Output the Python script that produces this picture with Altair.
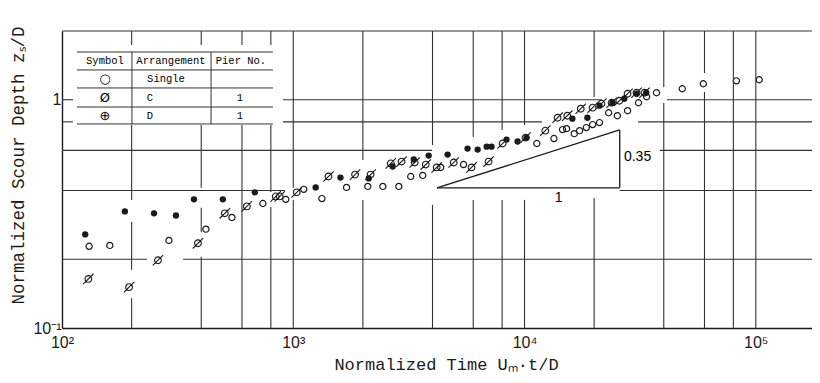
import altair as alt
import pandas as pd

# ---------------- data ----------------
single_t = [131, 161, 290, 419, 543, 739, 928, 1110, 1330, 1700, 2100, 2440, 2860, 3220, 3630, 4340, 5450,
            11300, 13400, 14600, 15200, 16400, 17300, 18500, 19700, 21100, 23100, 25200, 27900, 31100,
            33700, 37200, 48100, 59300, 82400, 103500]
single_z = [0.228, 0.230, 0.242, 0.271, 0.305, 0.351, 0.366, 0.405, 0.369, 0.413, 0.417, 0.417, 0.417, 0.461,
            0.466, 0.505, 0.520, 0.643, 0.676, 0.740, 0.747, 0.710, 0.732, 0.755, 0.778, 0.794, 0.877, 0.851,
            0.895, 0.970, 1.031, 1.073, 1.117, 1.175, 1.210, 1.223]

c_t = [130, 195, 260, 387, 506, 630, 840, 874, 1035, 1420, 1850, 2160, 2640, 2940, 3350, 3740, 4170, 4940,
       5900, 6990, 8040, 10100, 12300, 13900, 15300, 17500, 19700, 21500, 23800, 25700, 27900, 30500, 33000]
c_z = [0.164, 0.151, 0.198, 0.235, 0.318, 0.341, 0.377, 0.377, 0.393, 0.461, 0.470, 0.470, 0.526, 0.536,
       0.531, 0.520, 0.505, 0.531, 0.505, 0.536, 0.643, 0.682, 0.732, 0.834, 0.851, 0.913, 0.923, 0.961,
       0.970, 0.990, 1.062, 1.073, 1.073]

d_t = [126, 187, 250, 311, 372, 496, 682, 1250, 1600, 2120, 2690, 3320, 3850, 4650, 5670, 6270, 6860, 7200,
       8360, 9330, 10200, 16100, 18700, 21100, 24000, 27000, 30500, 33600]
d_z = [0.257, 0.324, 0.318, 0.311, 0.366, 0.366, 0.393, 0.413, 0.456, 0.452, 0.510, 0.547, 0.569, 0.575,
       0.611, 0.605, 0.623, 0.623, 0.669, 0.656, 0.682, 0.826, 0.834, 0.942, 0.970, 1.010, 1.062, 1.073]

x_tick_values = [100, 1000, 10000, 100000]
y_tick_values = [0.1, 1]

# broken grid lines of the scanned figure (value, from, to)
vgrid_x = [200, 200, 200, 200, 400, 400, 400, 400, 600, 600, 800, 800, 800, 1000, 1000, 2000, 2000,
           4000, 4000, 6000, 6000, 8000, 8000, 10000, 10000, 20000, 20000, 40000, 40000, 60000, 60000,
           80000, 100000]
vgrid_lo = [1.736, 0.364, 0.180, 0.1, 1.736, 0.411, 0.263, 0.1, 1.736, 0.1, 1.736, 0.394, 0.1, 0.411, 0.1,
            0.545, 0.1, 0.633, 0.1, 0.687, 0.1, 0.737, 0.1, 0.775, 0.1, 1.028, 0.1, 1.137, 0.1, 1.309, 0.1,
            0.1, 0.1]
vgrid_hi = [2.0, 0.775, 0.291, 0.135, 2.0, 0.775, 0.336, 0.205, 2.0, 0.775, 2.0, 0.775, 0.339, 2.0, 0.364,
            2.0, 0.364, 2.0, 0.346, 2.0, 0.364, 2.0, 0.364, 2.0, 0.364, 2.0, 0.371, 2.0, 0.967, 2.0, 1.081,
            2.0, 2.0]

hgrid_y = [1.0, 1.0, 1.0, 0.8, 0.8, 0.8, 0.6, 0.6, 0.4, 0.4, 0.2, 0.2, 2.0]
hgrid_lo = [100, 902, 41280, 100, 902, 30930, 100, 38490, 100, 25800, 100, 334, 100]
hgrid_hi = [111.6, 21600, 175000, 111.6, 11890, 175000, 3978, 175000, 920, 175000, 233, 175000, 175000]

# slope triangle (1 : 0.35)
tri_x = [4180, 25800, 4180]
tri_y = [0.411, 0.411, 0.411]
tri_x2 = [25800, 25800, 25800]
tri_y2 = [0.411, 0.737, 0.737]
tri_label_text = ["1", "0.35"]
tri_label_x = [13500, 26900]
tri_label_y = [0.371, 0.561]

# legend table, placed in the plot's own coordinates
table_hline_y = [1.618, 1.350, 1.126, 0.929, 0.783]
table_left, table_right = 116.1, 817
table_vline_x = [200.7, 441]
table_text = ["Symbol", "Arrangement", "Pier No.", "Single", "C", "1", "D", "1"]
table_text_x = [153.4, 296, 594, 281.6, 240.2, 588, 240.2, 588]
table_text_y = [1.477, 1.477, 1.477, 1.233, 1.018, 1.018, 0.849, 0.849]
table_symbols = ["○", "Ø", "⊕"]
table_symbol_x = [153.4, 153.4, 153.4]
table_symbol_y = [1.233, 1.018, 0.849]

# ---------------- scales ----------------
xs = alt.Scale(type="log", domain=[100, 175000], nice=False)
ys = alt.Scale(type="log", domain=[0.1, 2.0], nice=False)
INK = "#1a1a1a"
GRID = "#333333"


def seg_layer(df, color, width):
    return alt.Chart(df).mark_rule(color=color, strokeWidth=width).encode(
        x=alt.X("x:Q", scale=xs),
        y=alt.Y("y:Q", scale=ys),
        x2="x2:Q",
        y2="y2:Q",
    )


vgrid = pd.DataFrame({"x": vgrid_x, "x2": vgrid_x, "y": vgrid_lo, "y2": vgrid_hi})
hgrid = pd.DataFrame({"x": hgrid_lo, "x2": hgrid_hi, "y": hgrid_y, "y2": hgrid_y})
vlayer = seg_layer(vgrid, GRID, 1.1)
hlayer = seg_layer(hgrid, GRID, 1.1)

tri = pd.DataFrame({"x": tri_x, "y": tri_y, "x2": tri_x2, "y2": tri_y2})
tri_layer = seg_layer(tri, INK, 1.3)

tri_lab = pd.DataFrame({"t": tri_label_text, "x": tri_label_x, "y": tri_label_y})
tri_text = alt.Chart(tri_lab).mark_text(font="Liberation Sans", fontSize=14, align="left", color="black").encode(
    x=alt.X("x:Q", scale=xs),
    y=alt.Y("y:Q", scale=ys),
    text="t:N",
)

tbl_lines = pd.DataFrame({
    "x": [table_left] * len(table_hline_y) + table_vline_x,
    "x2": [table_right] * len(table_hline_y) + table_vline_x,
    "y": table_hline_y + [table_hline_y[0]] * len(table_vline_x),
    "y2": table_hline_y + [table_hline_y[-1]] * len(table_vline_x),
})
tbl_rule = seg_layer(tbl_lines, GRID, 1.0)

tbl_txt = pd.DataFrame({"label": table_text, "x": table_text_x, "y": table_text_y})
tbl_text = alt.Chart(tbl_txt).mark_text(font="Liberation Mono", fontSize=10.5, color="black").encode(
    x=alt.X("x:Q", scale=xs), y=alt.Y("y:Q", scale=ys), text="label:N",
)
tbl_sym = pd.DataFrame({"label": table_symbols, "x": table_symbol_x, "y": table_symbol_y})
tbl_symbols = alt.Chart(tbl_sym).mark_text(font="DejaVu Sans", fontSize=13, color="black").encode(
    x=alt.X("x:Q", scale=xs), y=alt.Y("y:Q", scale=ys), text="label:N",
)

x_label_expr = ("datum.value == 100 ? '10²' : datum.value == 1000 ? '10³' : "
                "datum.value == 10000 ? '10⁴' : '10⁵'")
y_label_expr = "datum.value == 1 ? '1\u00a0\u00a0\u00a0\u00a0' : '10⁻¹'"

x_axis = alt.Axis(
    values=x_tick_values, labelExpr=x_label_expr, grid=False, ticks=False, tickSize=0,
    labelFont="Liberation Sans", labelFontSize=16, labelColor=INK, labelPadding=6,
    labelFlush=False, domainColor=INK, domainWidth=1.4,
    title="Normalized Time  Uₘ·t/D", titleFont="Liberation Mono", titleFontSize=17,
    titleFontWeight="normal", titleColor=INK, titleX=384, titleY=36,
    titleBaseline="middle", titleAlign="center")
y_axis = alt.Axis(
    values=y_tick_values, labelExpr=y_label_expr, grid=False, ticks=False, tickSize=0,
    labelFont="Liberation Sans", labelFontSize=16, labelColor=INK, labelPadding=1,
    labelFlush=False, domainColor=INK, domainWidth=1.4,
    title="Normalized Scour Depth  zₛ/D", titleFont="Liberation Mono", titleFontSize=17.5,
    titleFontWeight="normal", titleColor=INK, titleX=-44, titleY=134, titleAngle=270,
    titleBaseline="middle", titleAlign="center")

single_df = pd.DataFrame({"t": single_t, "z": single_z})
single_layer = alt.Chart(single_df).mark_point(
    shape="circle", filled=False, size=38, stroke=INK, strokeWidth=1.2, opacity=1
).encode(
    x=alt.X("t:Q", scale=xs, axis=x_axis),
    y=alt.Y("z:Q", scale=ys, axis=y_axis),
)

slash_circle = ("M -0.55 0 A 0.55 0.55 0 1 0 0.55 0 A 0.55 0.55 0 1 0 -0.55 0 "
                "M -0.85 0.85 L 0.85 -0.85")
c_df = pd.DataFrame({"t": c_t, "z": c_z})
c_layer = alt.Chart(c_df).mark_point(
    shape=slash_circle, filled=False, size=150, stroke=INK, strokeWidth=1.1, opacity=1
).encode(
    x=alt.X("t:Q", scale=xs),
    y=alt.Y("z:Q", scale=ys),
)

d_df = pd.DataFrame({"t": d_t, "z": d_z})
d_layer = alt.Chart(d_df).mark_point(
    shape="circle", filled=True, size=40, color=INK, opacity=1
).encode(
    x=alt.X("t:Q", scale=xs),
    y=alt.Y("z:Q", scale=ys),
)

chart = alt.layer(
    single_layer, vlayer, hlayer, tri_layer, tri_text, c_layer, d_layer,
    tbl_rule, tbl_text, tbl_symbols,
).properties(
    width=750, height=297,
    padding={"left": 54, "top": 23, "right": 0, "bottom": 47},
    autosize=alt.AutoSizeParams(type="none"),
    background="white",
).configure_view(stroke=None)

chart.save("out.html", embed_options={"renderer": "svg", "actions": False})
